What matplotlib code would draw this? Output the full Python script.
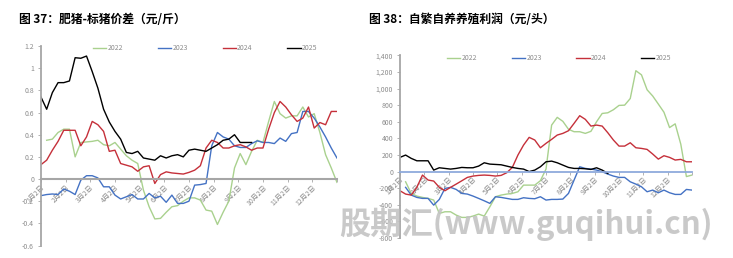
import numpy as np
import matplotlib
matplotlib.use("Agg")
import matplotlib.pyplot as plt
from matplotlib.ticker import FuncFormatter

plt.rcParams['font.family'] = ['Noto Sans CJK SC', 'DejaVu Sans']
plt.rcParams['axes.unicode_minus'] = False

nan = np.nan
weeks = np.arange(53)
month_labels = ['1月2日', '2月2日', '3月2日', '4月2日', '5月2日', '6月2日',
                '7月2日', '8月2日', '9月2日', '10月2日', '11月2日', '12月2日']
years = ['2022', '2023', '2024', '2025']
colors = ['#A9D18E', '#4472C4', '#C5303A', '#000000']

# fig 37: fat pig - standard pig spread (yuan/jin), weekly
spread_2022 = [nan, 0.35, 0.36, 0.42, 0.45, 0.45, 0.20, 0.33, 0.335, 0.34,
               0.35, 0.31, 0.30, 0.33, 0.27, 0.21, 0.17, 0.14, -0.10, -0.25,
               -0.36, -0.355, -0.30, -0.25, -0.24, -0.20, -0.17, -0.17, -0.19, -0.28,
               -0.29, -0.41, -0.30, -0.20, 0.10, 0.23, 0.13, 0.25, 0.35, 0.33,
               0.52, 0.70, 0.59, 0.55, 0.57, 0.57, 0.65, 0.56, 0.59, 0.42,
               0.22, 0.10, -0.03]
spread_2023 = [-0.15, -0.14, -0.135, -0.14, -0.09, -0.11, -0.14, -0.01, 0.03, 0.03,
               0.01, -0.07, -0.07, -0.145, -0.18, -0.16, -0.14, -0.18, -0.18, -0.13,
               -0.17, -0.155, -0.21, -0.145, -0.22, -0.22, -0.20, -0.055, -0.05, -0.04,
               0.30, 0.42, 0.38, 0.36, 0.30, 0.285, 0.285, 0.32, 0.345, 0.33,
               0.33, 0.32, 0.37, 0.34, 0.41, 0.42, 0.61, 0.61, 0.55, 0.47,
               0.38, 0.28, 0.19]
spread_2024 = [0.13, 0.17, 0.26, 0.34, 0.44, 0.44, 0.44, 0.30, 0.38, 0.52,
               0.49, 0.43, 0.25, 0.26, 0.14, 0.125, 0.11, 0.07, 0.11, 0.12,
               -0.04, 0.04, 0.065, 0.055, 0.05, 0.045, 0.06, 0.08, 0.12, 0.28,
               0.35, 0.33, 0.28, 0.28, 0.30, 0.31, 0.29, 0.26, 0.28, 0.28,
               0.45, 0.60, 0.70, 0.65, 0.58, 0.52, 0.55, 0.65, 0.46, 0.51,
               0.49, 0.61, 0.61]
spread_2025 = [0.74, 0.63, 0.78, 0.87, 0.87, 0.885, 1.095, 1.09, 1.11, 0.97,
               0.82, 0.63, 0.515, 0.43, 0.36, 0.24, 0.23, 0.25, 0.19, 0.18,
               0.17, 0.21, 0.19, 0.21, 0.22, 0.20, 0.26, 0.27, 0.26, 0.25,
               0.28, 0.31, 0.35, 0.36, 0.40, 0.33, 0.33, 0.33]

# fig 38: self-bred pig farming profit (yuan/head), weekly
profit_2022 = [nan, -123, -263, -295, -311, -323, -343, -504, -484, -484,
               -524, -552, -552, -536, -512, -536, -424, -303, -283, -271,
               -263, -243, -163, -163, -163, -110, 30, 560, 653, 605,
               510, 480, 480, 460, 485, 600, 700, 708, 745, 797,
               800, 880, 1215, 1165, 985, 910, 813, 715, 530, 575,
               330, -60, -42]
profit_2023 = [nan, -190, -283, -311, -323, -323, -404, -335, -203, -190,
               -215, -263, -271, -295, -323, -352, -383, -303, -311, -323,
               -335, -335, -315, -323, -327, -303, -343, -335, -335, -331,
               -263, -102, 58, 38, 30, 18, -2, -30, -54, -70,
               -70, -123, -151, -183, -243, -223, -255, -223, -255, -275,
               -275, -215, -223]
profit_2024 = [-231, -271, -283, -190, -42, -102, -114, -190, -231, -190,
               -151, -111, -70, -54, -46, -42, -46, -54, -46, -14,
               50, 199, 319, 412, 380, 287, 340, 388, 440, 460,
               492, 581, 673, 629, 548, 560, 548, 468, 380, 307,
               307, 347, 287, 279, 267, 211, 150, 191, 171, 139,
               147, 118, 118]
profit_2025 = [171, 199, 159, 130, 130, 130, 18, 46, 38, 30,
               38, 50, 46, 46, 66, 106, 90, 86, 82, 66,
               50, 38, 30, 0, 18, 58, 118, 126, 106, 78,
               50, 38, 38, 34, 26, 46, 18, -22]

fig = plt.figure(figsize=(7.33, 2.58), dpi=100)
ax1 = fig.add_axes([0.0559, 0.0484, 0.4038, 0.773])
ax2 = fig.add_axes([0.5457, 0.0775, 0.3984, 0.708])

month_pos = np.arange(13) * 52 / 12


def style_axis(ax, zero_color, zero_lw):
    ax.set_xlim(0, 52)
    ax.spines['top'].set_visible(False)
    ax.spines['right'].set_visible(False)
    ax.spines['left'].set_color('#A6A6A6')
    ax.spines['left'].set_linewidth(1.3)
    ax.spines['bottom'].set_position(('data', 0))
    ax.spines['bottom'].set_color(zero_color)
    ax.spines['bottom'].set_linewidth(zero_lw)
    ax.set_xticks(month_pos)
    ax.set_xticklabels(month_labels + [''], rotation=45, ha='right',
                       rotation_mode='anchor', fontsize=5, color='#8C8C8C')
    ax.tick_params(axis='x', length=2, width=0.6, color='#A6A6A6', pad=1)
    ax.tick_params(axis='y', length=2, width=0.6, color='#A6A6A6',
                   labelsize=5, labelcolor='#8C8C8C', pad=3)
    ax.set_facecolor('none')


def add_legend(ax, x):
    ax.legend(loc='upper center', bbox_to_anchor=(x, 1.04), ncol=4, frameon=False,
              fontsize=5, handlelength=1.9, columnspacing=5.0, handletextpad=0.2,
              labelcolor='#8C8C8C')


data1 = [spread_2022, spread_2023, spread_2024, spread_2025]
for vals, c, lab in zip(data1, colors, years):
    ax1.plot(weeks[:len(vals)], vals, color=c, lw=1.0, label=lab)
ax1.set_ylim(-0.6, 1.2)
ax1.set_yticks(np.round(np.arange(-0.6, 1.21, 0.2), 1))
ax1.yaxis.set_major_formatter(FuncFormatter(lambda v, p: '%g' % round(v, 1)))
style_axis(ax1, '#A6A6A6', 1.5)
add_legend(ax1, 0.555)

data2 = [profit_2022, profit_2023, profit_2024, profit_2025]
for vals, c, lab in zip(data2, colors, years):
    ax2.plot(weeks[:len(vals)], vals, color=c, lw=1.0, label=lab)
ax2.set_ylim(-800, 1400)
ax2.set_yticks(np.arange(-800, 1401, 200))
ax2.yaxis.set_major_formatter(FuncFormatter(lambda v, p: '{:,.0f}'.format(v)))
style_axis(ax2, '#8FAADC', 1.3)
add_legend(ax2, 0.545)

fig.text(0.026, 0.925, '图 37：肥猪-标猪价差（元/斤）', fontsize=8.5, fontweight='bold',
         va='center', ha='left')
fig.text(0.503, 0.925, '图 38：自繁自养养殖利润（元/头）', fontsize=8.5, fontweight='bold',
         va='center', ha='left')

# watermark
fig.text(0.718, 0.13, '股期汇(www.guqihui.cn)', fontsize=22.5, fontweight='bold',
         style='italic', color='#C4C4C4', alpha=0.9, ha='center', va='center',
         family=['Noto Sans CJK SC', 'DejaVu Sans'])

fig.savefig('out.png', dpi=100)
